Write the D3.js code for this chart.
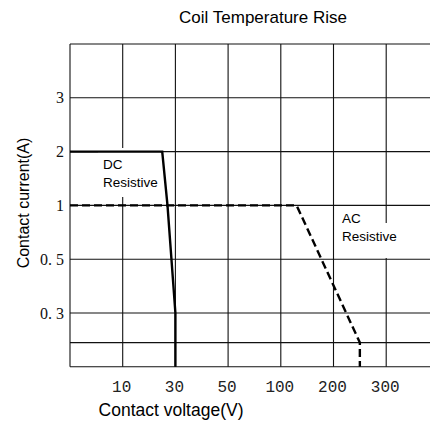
<!DOCTYPE html>
<html>
<head>
<meta charset="utf-8">
<script src="https://cdn.jsdelivr.net/npm/d3@7"></script>
<style>
  body { margin: 0; background: #fff; }
  svg { display: block; }
</style>
</head>
<body>
<div class="main"></div>
<script>
// tick values (grid is categorical-looking, so piecewise scales)
var xTicks = [10, 30, 50, 100, 200, 300];
var xDomain = [0, 10, 30, 50, 100, 200, 300, 400];
var yTicks = [3, 2, 1, 0.5, 0.3];
var yDomain = [4, 3, 2, 1, 0.5, 0.3, 0.2, 0.1];
var yTickText = ["3", "2", "1", "0. 5", "0. 3"];

// DC resistive curve (solid)
var dcVoltage = [0, 25, 27, 30, 30];
var dcCurrent = [2, 2, 1, 0.3, 0.1];
// AC resistive curve (dashed)
var acVoltage = [0, 130, 250, 250];
var acCurrent = [1, 1, 0.2, 0.1];

var W = 430, H = 429;
var plotLeft = 70, plotTop = 44, step = 52.7, rowStep = 53.8;

var svg = d3.select(".main").append("svg")
    .attr("width", W)
    .attr("height", H);

var x = d3.scaleLinear()
    .domain(xDomain)
    .range(xDomain.map(function(d, i) { return plotLeft + i * step; }));

var rowIdx = [0, 1, 2, 3, 4, 5, 5.55, 6];
var y = d3.scaleLinear()
    .domain(yDomain)
    .range(rowIdx.map(function(r) { return plotTop + r * rowStep; }));

var plotBottom = y(0.1);

// grid
var grid = svg.append("g").attr("stroke", "#111").attr("stroke-width", 1.1);
grid.selectAll("line.h")
    .data(yDomain)
    .enter().append("line")
    .attr("class", "h")
    .attr("x1", plotLeft).attr("x2", W)
    .attr("y1", function(d) { return y(d); })
    .attr("y2", function(d) { return y(d); });

grid.selectAll("line.v")
    .data([0].concat(xTicks))
    .enter().append("line")
    .attr("class", "v")
    .attr("x1", function(d) { return x(d); })
    .attr("x2", function(d) { return x(d); })
    .attr("y1", plotTop).attr("y2", plotBottom);

// label boxes hide grid behind text
svg.append("rect").attr("x", 98).attr("y", 148).attr("width", 62).attr("height", 49).attr("fill", "#fff");
svg.append("rect").attr("x", 338).attr("y", 223).attr("width", 64).attr("height", 35).attr("fill", "#fff");

var line = d3.line()
    .x(function(d) { return x(d[0]); })
    .y(function(d) { return y(d[1]); });

svg.append("path")
    .datum(d3.zip(dcVoltage, dcCurrent))
    .attr("d", line)
    .attr("fill", "none")
    .attr("stroke", "#000")
    .attr("stroke-width", 2.4);

svg.append("path")
    .datum(d3.zip(acVoltage, acCurrent))
    .attr("d", line)
    .attr("fill", "none")
    .attr("stroke", "#000")
    .attr("stroke-width", 2.4)
    .attr("stroke-dasharray", "8,4");

// tick labels
svg.selectAll("text.xt")
    .data(xTicks)
    .enter().append("text")
    .attr("class", "xt")
    .attr("x", function(d) { return x(d) - 1; })
    .attr("y", 392)
    .attr("text-anchor", "middle")
    .style("font-family", "Liberation Mono")
    .style("font-size", "16px")
    .attr("fill", "#222")
    .text(function(d) { return d; });

svg.selectAll("text.yt")
    .data(yTicks)
    .enter().append("text")
    .attr("class", "yt")
    .attr("x", 64)
    .attr("y", function(d) { return y(d); })
    .attr("dy", "0.35em")
    .attr("text-anchor", "end")
    .style("font-family", "Liberation Serif")
    .style("font-size", "16px")
    .attr("fill", "#111")
    .text(function(d, i) { return yTickText[i]; });

// titles
svg.append("text")
    .attr("x", 263).attr("y", 23)
    .attr("text-anchor", "middle")
    .style("font-family", "Liberation Sans")
    .style("font-size", "17px")
    .text("Coil Temperature Rise");

svg.append("text")
    .attr("x", 171).attr("y", 416)
    .attr("text-anchor", "middle")
    .style("font-family", "Liberation Sans")
    .style("font-size", "17.5px")
    .text("Contact voltage(V)");

svg.append("text")
    .attr("transform", "translate(29,203) rotate(-90)")
    .attr("text-anchor", "middle")
    .style("font-family", "Liberation Sans")
    .style("font-size", "16px")
    .text("Contact current(A)");

// curve labels
var lab = svg.append("g")
    .style("font-family", "Liberation Sans")
    .style("font-size", "13.5px");
lab.append("text").attr("x", 103).attr("y", 169).text("DC");
lab.append("text").attr("x", 103).attr("y", 187).text("Resistive");
lab.append("text").attr("x", 342).attr("y", 223).text("AC");
lab.append("text").attr("x", 342).attr("y", 241).text("Resistive");
</script>
</body>
</html>
